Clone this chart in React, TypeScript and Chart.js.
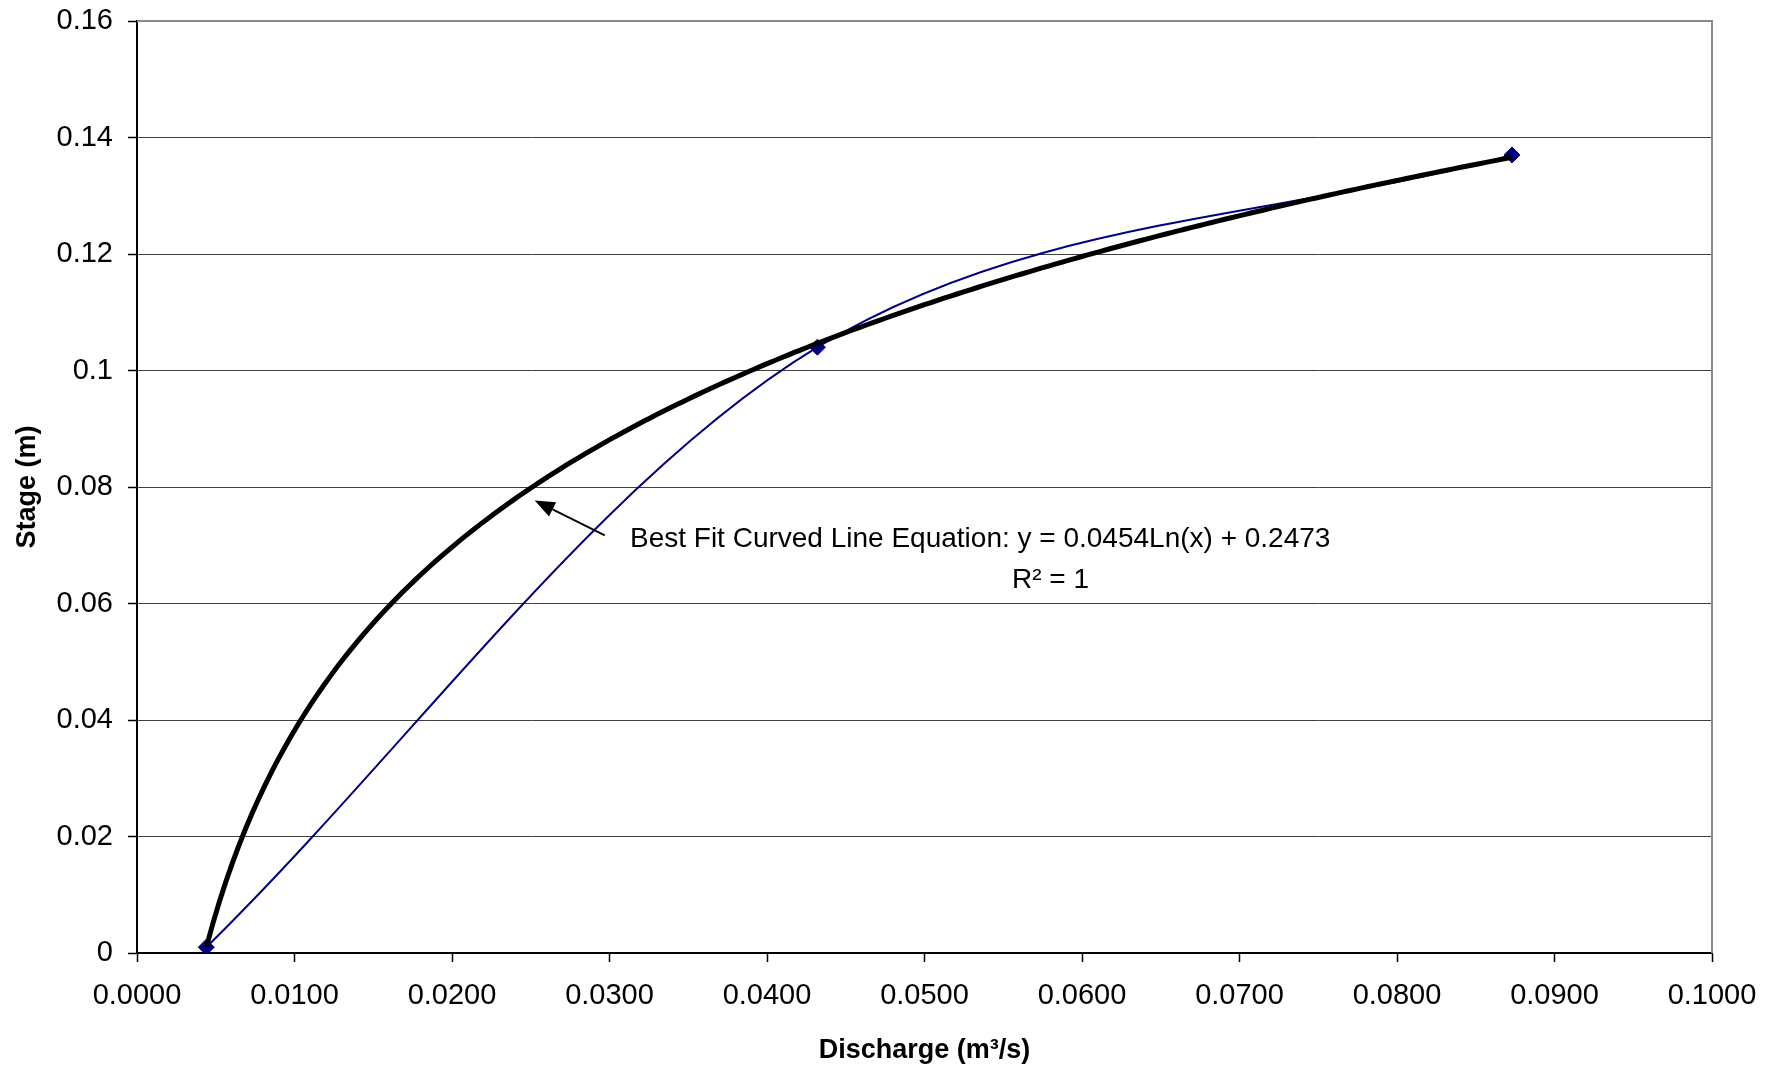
import React, { useEffect, useRef } from "react";
import { Chart, registerables } from "chart.js";

Chart.register(...registerables);

// Observed rating points (discharge m3/s, stage m)
const observedDischarge = [0.0044, 0.0432, 0.0873];
const observedStage = [0.001, 0.104, 0.137];

// Logarithmic trendline reported on the chart: y = a*Ln(x) + b
const fitSlope = 0.0454;
const fitIntercept = 0.2473;
const fitSampleCount = 200;

// Axes
const xMin = 0;
const xMax = 0.1;
const xStep = 0.01;
const yMin = 0;
const yMax = 0.16;
const yStep = 0.02;

const xTitle = "Discharge (m\u00b3/s)";
const yTitle = "Stage (m)";

// Annotation (data coordinates)
const annotationLine1 = "Best Fit Curved Line Equation: y = 0.0454Ln(x) + 0.2473";
const annotationLine2 = "R\u00b2 = 1";
const annotationTextAnchor = [0.0313, 0.071]; // left, middle of line 1
const annotationLine2Anchor = [0.058, 0.064]; // centre of line 2
const arrowTail = [0.0297, 0.0717];
const arrowTip = [0.02525, 0.0777];

const FONT = "'Liberation Sans', Arial, sans-serif";
const SMOOTH_FACTOR = 1 / 6; // spreadsheet-style smoothed line

const trendPoints = (() => {
  const x0 = observedDischarge[0];
  const x1 = observedDischarge[observedDischarge.length - 1];
  const pts: { x: number; y: number }[] = [];
  for (let i = 0; i <= fitSampleCount; i++) {
    const x = x0 + ((x1 - x0) * i) / fitSampleCount;
    pts.push({ x, y: fitSlope * Math.log(x) + fitIntercept });
  }
  return pts;
})();

const smoothPlugin = {
  id: "spreadsheetSmooth",
  beforeDatasetDraw(chart: any, args: any) {
    if (args.index !== 1) return;
    const line = args.meta.dataset;
    const pts = args.meta.data;
    if (line && typeof line.updateControlPoints === "function") {
      line.updateControlPoints(chart.chartArea, "x");
    }
    const n = pts.length;
    for (let i = 0; i < n; i++) {
      const cur = pts[i];
      let px: number, py: number, nx: number, ny: number;
      if (i === 0) {
        nx = pts[1].x; ny = pts[1].y;
        px = 2 * cur.x - nx; py = 2 * cur.y - ny;
      } else if (i === n - 1) {
        px = pts[i - 1].x; py = pts[i - 1].y;
        nx = 2 * cur.x - px; ny = 2 * cur.y - py;
      } else {
        px = pts[i - 1].x; py = pts[i - 1].y;
        nx = pts[i + 1].x; ny = pts[i + 1].y;
      }
      const tx = (nx - px) * SMOOTH_FACTOR;
      const ty = (ny - py) * SMOOTH_FACTOR;
      cur.cp1x = cur.x - tx;
      cur.cp1y = cur.y - ty;
      cur.cp2x = cur.x + tx;
      cur.cp2y = cur.y + ty;
    }
    if (line) {
      line._pointsUpdated = true;
      line._path = undefined;
    }
  },
};

const framePlugin = {
  id: "frameAndAnnotation",
  afterDatasetsDraw(chart: any) {
    const { ctx, chartArea } = chart;
    const xs = chart.scales.x;
    const ys = chart.scales.y;
    ctx.save();
    // top and right frame
    ctx.strokeStyle = "#8a8a8a";
    ctx.lineWidth = 2;
    ctx.beginPath();
    ctx.moveTo(chartArea.left, chartArea.top);
    ctx.lineTo(chartArea.right, chartArea.top);
    ctx.lineTo(chartArea.right, chartArea.bottom);
    ctx.stroke();

    // arrow
    const tx = xs.getPixelForValue(arrowTail[0]);
    const ty = ys.getPixelForValue(arrowTail[1]);
    const hx = xs.getPixelForValue(arrowTip[0]);
    const hy = ys.getPixelForValue(arrowTip[1]);
    const ang = Math.atan2(hy - ty, hx - tx);
    const headLen = 20;
    const headHalf = 8;
    const bx = hx - headLen * Math.cos(ang);
    const by = hy - headLen * Math.sin(ang);
    ctx.strokeStyle = "#000";
    ctx.lineWidth = 1.8;
    ctx.beginPath();
    ctx.moveTo(tx, ty);
    ctx.lineTo(bx, by);
    ctx.stroke();
    ctx.fillStyle = "#000";
    ctx.beginPath();
    ctx.moveTo(hx, hy);
    ctx.lineTo(bx + headHalf * Math.sin(ang), by - headHalf * Math.cos(ang));
    ctx.lineTo(bx - headHalf * Math.sin(ang), by + headHalf * Math.cos(ang));
    ctx.closePath();
    ctx.fill();

    // text
    ctx.font = `28px ${FONT}`;
    ctx.fillStyle = "#000";
    ctx.textBaseline = "middle";
    ctx.textAlign = "left";
    ctx.fillText(
      annotationLine1,
      xs.getPixelForValue(annotationTextAnchor[0]),
      ys.getPixelForValue(annotationTextAnchor[1])
    );
    ctx.textAlign = "center";
    ctx.fillText(
      annotationLine2,
      xs.getPixelForValue(annotationLine2Anchor[0]),
      ys.getPixelForValue(annotationLine2Anchor[1])
    );
    ctx.restore();
  },
};

export default function App() {
  const ref = useRef<HTMLCanvasElement | null>(null);
  useEffect(() => {
    if (!ref.current) return;
    const chart = new Chart(ref.current, {
      type: "scatter",
      data: {
        datasets: [
          {
            label: "Log trendline",
            data: trendPoints,
            showLine: true,
            borderColor: "#000000",
            borderWidth: 5,
            pointRadius: 0,
            tension: 0,
            fill: false,
          },
          {
            label: "Observed",
            data: observedDischarge.map((x, i) => ({ x, y: observedStage[i] })),
            showLine: true,
            borderColor: "#000080",
            backgroundColor: "#000080",
            borderWidth: 2,
            pointStyle: "rectRot",
            pointRadius: 8,
            pointBorderWidth: 1,
            pointBorderColor: "#000080",
            pointBackgroundColor: "#000080",
            tension: 0.3,
            fill: false,
          } as any,
        ],
      },
      options: {
        responsive: false,
        animation: false,
        events: [],
        layout: { padding: { left: 0, top: 21, right: 68, bottom: 0 } },
        plugins: {
          legend: { display: false },
          tooltip: { enabled: false },
        },
        scales: {
          x: {
            type: "linear",
            min: xMin,
            max: xMax,
            afterFit: (s: any) => {
              s.height = 117;
              s.paddingLeft = 0;
              s.paddingRight = 0;
            },
            afterBuildTicks: (s: any) => {
              const t = [];
              for (let v = xMin; v <= xMax + 1e-9; v += xStep) t.push({ value: Math.round(v * 1e4) / 1e4 });
              s.ticks = t;
            },
            ticks: {
              font: { family: FONT, size: 29 },
              color: "#000",
              padding: 17,
              maxRotation: 0,
              autoSkip: false,
              callback: (v: any) => Number(v).toFixed(4),
            },
            grid: {
              drawOnChartArea: false,
              drawTicks: true,
              tickLength: 9,
              tickColor: "#000",
              tickWidth: 1.5,
            },
            border: { display: true, color: "#000", width: 2 },
            title: {
              display: true,
              text: xTitle,
              font: { family: FONT, size: 27, weight: "bold" },
              color: "#000",
              padding: { top: 0, bottom: 3 },
            },
          },
          y: {
            type: "linear",
            min: yMin,
            max: yMax,
            afterFit: (s: any) => {
              s.width = 137;
              s.paddingTop = 0;
              s.paddingBottom = 0;
            },
            ticks: {
              stepSize: yStep,
              font: { family: FONT, size: 29 },
              color: "#000",
              padding: 15,
              callback: (v: any) => String(Number(Number(v).toFixed(2))),
            },
            grid: {
              color: "#404040",
              lineWidth: 1,
              drawTicks: true,
              tickLength: 9,
              tickColor: "#000",
              tickWidth: 1.5,
            },
            border: { display: true, color: "#000", width: 2 },
            title: {
              display: true,
              text: yTitle,
              font: { family: FONT, size: 27, weight: "bold" },
              color: "#000",
              padding: { top: 11, bottom: 0 },
            },
          },
        },
      },
      plugins: [smoothPlugin, framePlugin],
    });
    return () => chart.destroy();
  }, []);
  return (
    <div style={{ position: "fixed", left: 0, top: 0, width: 1780, height: 1070, background: "#fff" }}>
      <canvas ref={ref} width={1780} height={1070} style={{ width: 1780, height: 1070, display: "block" }} />
    </div>
  );
}
